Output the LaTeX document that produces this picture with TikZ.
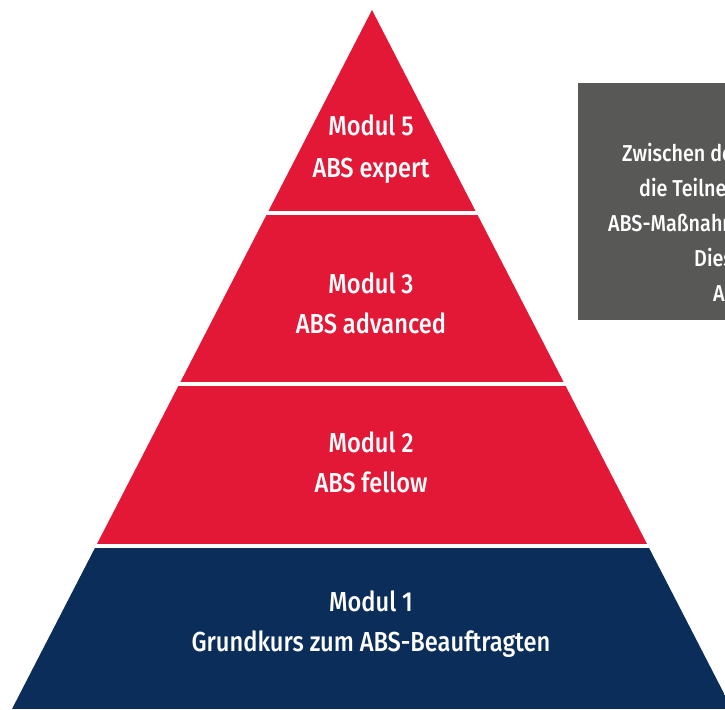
\documentclass[tikz,border=0pt]{standalone}
\usepackage{fontspec}
\setmainfont{Fira Sans}[UprightFont=* Medium, FakeStretch=0.86]
\definecolor{absred}{HTML}{E31837}
\definecolor{absnavy}{HTML}{0A2D5A}
\definecolor{absgray}{HTML}{585857}
\tikzset{
  pyrtext/.style={text=white, font=\fontsize{27.5}{40}\selectfont, align=center, anchor=base},
  boxtext/.style={text=white, font=\fontsize{23}{35}\selectfont, anchor=base west, inner sep=0pt},
}
\begin{document}
\begin{tikzpicture}[x=1pt,y=-1pt]
\useasboundingbox (0,0) rectangle (725,709);
\clip (0,0) rectangle (725,709);
\fill[white] (0,0) rectangle (725,709);
% pyramid
\begin{scope}
  \clip (372,10) -- (12,709) -- (732,709) -- cycle;
  \fill[absred] (0,0) rectangle (740,210.5);
  \fill[absred] (0,214.5) rectangle (740,381.5);
  \fill[absred] (0,385.5) rectangle (740,544);
  \fill[absnavy] (0,548) rectangle (740,709);
\end{scope}
\node[pyrtext] (m5a) at (371,135) {Modul 5};
\node[pyrtext] (m5b) at (371,177) {ABS expert};
\node[pyrtext] (m3a) at (371,293) {Modul 3};
\node[pyrtext] (m3b) at (371,333) {ABS advanced};
\node[pyrtext] (m2a) at (371,452) {Modul 2};
\node[pyrtext] (m2b) at (371,492) {ABS fellow};
\node[pyrtext] (m1a) at (371,611) {Modul 1};
\node[pyrtext] (m1b) at (371,651) {Grundkurs zum ABS-Beauftragten};
% gray box
\fill[absgray] (578,83) rectangle (740,320);
\node[boxtext] (t1) at (622,161) {Zwischen den Modulen};
\node[boxtext] (t2) at (639,196) {die Teilnehmenden};
\node[boxtext] (t3) at (608,231) {ABS-Maßnahmen};
\node[boxtext] (t4) at (694,266) {Diese};
\node[boxtext] (t5) at (713,301) {ABS};
\end{tikzpicture}
\end{document}
